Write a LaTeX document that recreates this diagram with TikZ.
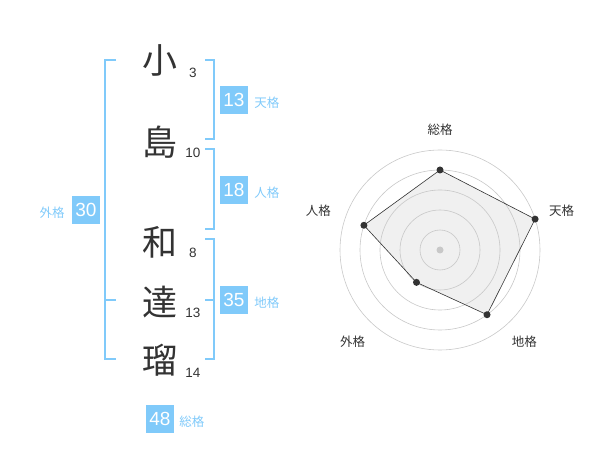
\documentclass[tikz,border=0pt]{standalone}
\usepackage{fontspec}
\setmainfont{Liberation Sans}
\newfontfamily\jpfont{Noto Sans CJK JP}
\usetikzlibrary{calc,positioning}
\definecolor{BoxClr}{RGB}{128,202,250}
\definecolor{InkClr}{RGB}{51,51,51}
\definecolor{RingClr}{RGB}{200,200,200}
\definecolor{AreaClr}{RGB}{240,240,240}

\begin{document}
\begin{tikzpicture}[x=1pt,y=-1pt,
  kanji/.style={text=InkClr,inner sep=0pt,font=\jpfont\fontsize{35}{35}\selectfont},
  strokes/.style={text=InkClr,inner sep=0pt,font=\fontsize{13.5}{13.5}\selectfont},
  brk/.style={draw=BoxClr,line width=2pt},
  numbox/.style={fill=BoxClr,text=white,minimum size=28pt,inner sep=0pt,font=\fontsize{19}{19}\selectfont},
  kaku/.style={text=BoxClr,inner sep=0pt,font=\jpfont\fontsize{12.5}{12.5}\selectfont},
  ring/.style={draw=RingClr,line width=0.6pt},
  axislbl/.style={text=InkClr,inner sep=0pt,font=\jpfont\fontsize{12.5}{12.5}\selectfont},
  dot/.style={circle,fill=InkClr,inner sep=0pt,minimum size=7pt}]
\useasboundingbox (0,0) rectangle (600,470);

% name
\node[kanji] (k1) at (160,60) {小};
\node[kanji] (k2) at (160,142) {島};
\node[kanji] (k3) at (160,242) {和};
\node[kanji] (k4) at (160,302) {達};
\node[kanji] (k5) at (160,360) {瑠};
\node[strokes] (s1) at (193,73) {3};
\node[strokes] (s2) at (193,153) {10};
\node[strokes] (s3) at (193,253) {8};
\node[strokes] (s4) at (193,313) {13};
\node[strokes] (s5) at (193,373) {14};

% brackets
\draw[brk] (116,60) -- (105,60) -- (105,359) -- (116,359);
\draw[brk] (105,300) -- (116,300);
\draw[brk] (205,60) -- (214,60) -- (214,139) -- (205,139);
\draw[brk] (205,149) -- (214,149) -- (214,229) -- (205,229);
\draw[brk] (205,239) -- (214,239) -- (214,359) -- (205,359);
\draw[brk] (205,300) -- (214,300);

% counts
\node[numbox] (b13) at (234,100) {13};
\node[kaku,right=6pt of b13,yshift=-3pt] (t13) {天格};
\node[numbox] (b18) at (234,190) {18};
\node[kaku,right=6pt of b18,yshift=-3pt] (t18) {人格};
\node[numbox] (b35) at (234,300) {35};
\node[kaku,right=6pt of b35,yshift=-3pt] (t35) {地格};
\node[numbox] (b30) at (86,210) {30};
\node[kaku,left=7pt of b30,yshift=-3pt] (t30) {外格};
\node[numbox] (b48) at (160,419) {48};
\node[kaku,right=5pt of b48,yshift=-3pt] (t48) {総格};

% radar
\coordinate (C) at (440,250);
\coordinate (pSo) at ($(C)+(-90:80)$);
\coordinate (pTen) at ($(C)+(-18:100)$);
\coordinate (pChi) at ($(C)+(54:80)$);
\coordinate (pGai) at ($(C)+(126:40)$);
\coordinate (pJin) at ($(C)+(198:80)$);
\fill[AreaClr] (pSo) -- (pTen) -- (pChi) -- (pGai) -- (pJin) -- cycle;
\foreach \r in {20,40,...,100}
  \draw[ring] (C) circle[radius=\r pt];
\fill[RingClr] (C) circle[radius=3.5pt];
\draw[InkClr,line width=0.6pt] (pSo) -- (pTen) -- (pChi) -- (pGai) -- (pJin) -- cycle;
\foreach \p in {pSo,pTen,pChi,pGai,pJin}
  \node[dot] (d\p) at (\p) {};
\node[axislbl] (lSo) at ($(C)+(-90:120)$) {総格};
\node[axislbl] (lTen) at ($(C)+(-18:128)$) {天格};
\node[axislbl] (lChi) at ($(C)+(47.5:125)$) {地格};
\node[axislbl] (lGai) at ($(C)+(133.5:127)$) {外格};
\node[axislbl] (lJin) at ($(C)+(198:128)$) {人格};

\end{tikzpicture}
\end{document}
